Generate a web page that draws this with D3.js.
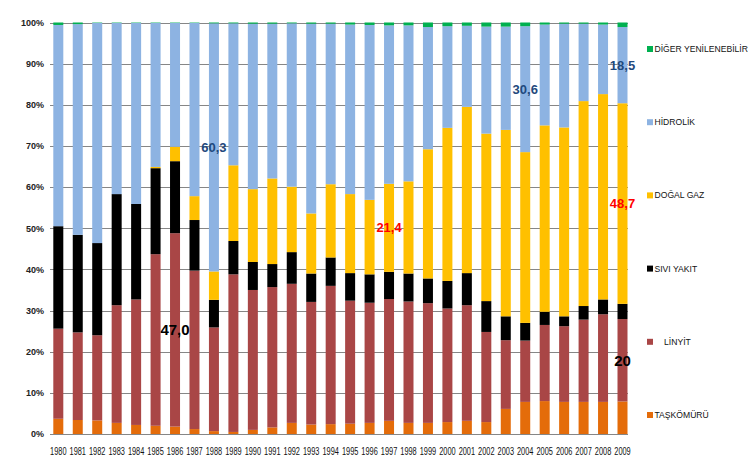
<!DOCTYPE html>
<html>
<head>
<meta charset="utf-8">
<script src="https://cdn.jsdelivr.net/npm/d3@7"></script>
<style>
  html, body { margin: 0; padding: 0; background: #fff; }
  svg { display: block; font-family: "Liberation Sans", Arial, sans-serif; }
</style>
</head>
<body>
<svg id="chart" width="753" height="468"></svg>
<script>
const years = ["1980","1981","1982","1983","1984","1985","1986","1987","1988","1989",
               "1990","1991","1992","1993","1994","1995","1996","1997","1998","1999",
               "2000","2001","2002","2003","2004","2005","2006","2007","2008","2009"];

const taskomuru = [3.7,3.4,3.3,2.7,2.2,2.0,1.8,1.2,0.7,0.5,
                   1.0,1.6,2.7,2.3,2.4,2.5,2.7,3.2,2.7,2.7,
                   2.9,3.2,2.9,6.1,7.8,8.0,7.8,7.8,7.8,7.9];
const linyit    = [21.9,21.3,20.7,28.6,30.5,41.7,47.0,38.5,25.2,38.3,
                   34.0,34.1,33.8,29.8,33.6,29.9,29.2,29.6,29.5,29.1,
                   27.6,28.1,21.9,16.7,14.9,18.5,18.4,20.0,21.3,20.0];
const siviYakit = [24.9,23.7,22.4,27.0,23.2,20.9,17.5,12.3,6.7,8.1,
                   6.8,5.6,7.7,6.9,6.9,6.7,6.9,6.6,6.8,6.0,
                   6.7,7.8,7.5,5.8,4.3,3.2,2.4,3.3,3.6,3.7];
const dogalGaz  = [0,0,0,0,0,0.3,3.5,5.8,6.9,18.4,
                   17.7,20.8,15.9,14.6,17.8,19.2,18.1,21.4,22.4,31.4,
                   37.2,40.4,40.7,45.3,41.5,45.3,45.9,49.8,49.9,48.7];
const hidrolik  = [48.9,51.2,53.5,41.6,44.0,35.0,30.1,42.1,60.3,34.5,
                   40.2,37.6,39.7,46.1,39.0,41.2,42.5,38.5,37.9,29.7,
                   24.7,19.7,26.0,25.1,30.6,24.5,25.2,18.8,16.9,18.5];
const digerYen  = [0.6,0.4,0.1,0.1,0.1,0.1,0.1,0.1,0.2,0.2,
                   0.3,0.3,0.2,0.3,0.3,0.5,0.6,0.7,0.7,1.1,
                   0.9,0.8,1.0,1.0,0.9,0.5,0.3,0.3,0.5,1.1];

const seriesKeys   = ["taskomuru","linyit","siviYakit","dogalGaz","hidrolik","digerYen"];
const seriesLabels = ["TAŞKÖMÜRÜ","    LİNYİT","SIVI YAKIT","DOĞAL GAZ","HİDROLİK","DİĞER YENİLENEBİLİR"];
const seriesColors = ["#E46C0A","#A94646","#000000","#FFC000","#8DB3E2","#00B050"];
const yTicks = [0,0.1,0.2,0.3,0.4,0.5,0.6,0.7,0.8,0.9,1.0];

// annotations: [year, series, text, color]
const notes = [
  ["1986","linyit","47,0","#000000"],
  ["1988","hidrolik","60,3","#1F497D"],
  ["1997","dogalGaz","21,4","#FF0000"],
  ["2004","hidrolik","30,6","#1F497D"],
  ["2009","hidrolik","18,5","#1F497D"],
  ["2009","dogalGaz","48,7","#FF0000"],
  ["2009","linyit","20","#000000"]
];

const seriesData = {taskomuru, linyit, siviYakit, dogalGaz, hidrolik, digerYen};
const table = years.map((y,i) => {
  const row = {year: y};
  seriesKeys.forEach(k => row[k] = seriesData[k][i]);
  return row;
});

const svg = d3.select("#chart");
const x = d3.scaleBand().domain(years).range([53.3, 627.5]).paddingInner(0.486).paddingOuter(0);
const y = d3.scaleLinear().domain([0,1]).range([434, 22.5]);

const stack = d3.stack().keys(seriesKeys).offset(d3.stackOffsetExpand);
const stacked = stack(table);

// gridlines
svg.append("g").selectAll("line").data(yTicks).join("line")
  .attr("x1", 50).attr("x2", 628)
  .attr("y1", d => Math.round(y(d)) + 0.5).attr("y2", d => Math.round(y(d)) + 0.5)
  .attr("stroke", "#868686").attr("stroke-width", 1);

// y axis labels
const yAxis = d3.axisLeft(y).tickValues(yTicks).tickFormat(d3.format(".0%")).tickSize(0).tickPadding(0);
const yg = svg.append("g").attr("transform", "translate(44,0)").call(yAxis);
yg.select(".domain").remove();
yg.selectAll("text").attr("font-size", 9).attr("font-weight", "bold")
  .attr("fill", "#222").attr("font-family", "Liberation Sans, Arial, sans-serif");

// bars
const colorOf = d3.scaleOrdinal().domain(seriesKeys).range(seriesColors);
svg.append("g").selectAll("g").data(stacked).join("g")
  .attr("fill", d => colorOf(d.key))
  .selectAll("rect").data(d => d).join("rect")
  .attr("x", d => x(d.data.year))
  .attr("width", x.bandwidth())
  .attr("y", d => y(d[1]))
  .attr("height", d => Math.max(0, y(d[0]) - y(d[1])));

// x axis labels (condensed like the original narrow font)
const xg = svg.append("g");
xg.selectAll("text").data(years).join("text")
  .attr("transform", d => `translate(${x(d) + x.bandwidth() / 2},454.5) scale(0.74,1)`)
  .attr("text-anchor", "middle")
  .attr("font-size", 10).attr("fill", "#111")
  .attr("font-family", "Liberation Sans, Arial, sans-serif")
  .text(d => d);

// annotations
const stackByKey = {};
stacked.forEach(s => stackByKey[s.key] = s);
svg.append("g").selectAll("text").data(notes).join("text")
  .attr("x", d => x(d[0]) + x.bandwidth() / 2)
  .attr("y", d => {
    const s = stackByKey[d[1]][years.indexOf(d[0])];
    return y((s[0] + s[1]) / 2);
  })
  .attr("dy", "0.35em")
  .attr("text-anchor", "middle")
  .attr("font-size", d => (d[2] === "47,0" || d[2] === "20") ? 15 : 13)
  .attr("font-weight", "bold")
  .attr("fill", d => d[3])
  .text(d => d[2]);

// legend
const legendItems = seriesKeys.map((k,i) => ({key: k, label: seriesLabels[i], color: seriesColors[i]})).reverse();
const lg = svg.append("g").selectAll("g").data(legendItems).join("g")
  .attr("transform", (d,i) => `translate(647,${49 + i * 73.2})`);
lg.append("rect").attr("x", 0).attr("y", -3).attr("width", 6).attr("height", 6).attr("fill", d => d.color);
lg.append("text").attr("x", 7.5).attr("y", 0).attr("dy", "0.35em")
  .attr("font-size", 8.6).attr("fill", "#111").style("white-space", "pre")
  .attr("font-family", "Liberation Sans, Arial, sans-serif")
  .text(d => d.label);
</script>
</body>
</html>
